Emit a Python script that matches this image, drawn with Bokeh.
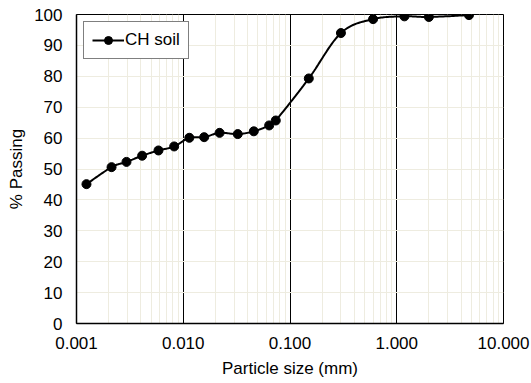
import numpy as np
from bokeh.plotting import figure
from bokeh.models import FixedTicker, Legend, LegendItem, Range1d
from bokeh.embed import file_html
from bokeh.resources import INLINE

# ---- data ----
particle_size = [0.00124, 0.00213, 0.00294, 0.00412, 0.00586, 0.00822, 0.0114, 0.0157,
                 0.0219, 0.0324, 0.0458, 0.0638, 0.0736, 0.150, 0.300, 0.600, 1.18, 2.00, 4.75]
percent_passing = [45.1, 50.6, 52.3, 54.3, 56.0, 57.3, 60.1, 60.3,
                   61.7, 61.3, 62.2, 64.1, 65.7, 79.3, 94.0, 98.5, 99.4, 99.2, 99.8]
series_name = "CH soil"
x_ticks = [0.001, 0.01, 0.1, 1.0, 10.0]
x_tick_labels = ["0.001", "0.010", "0.100", "1.000", "10.000"]
y_ticks = [0, 10, 20, 30, 40, 50, 60, 70, 80, 90, 100]

FONT = "Liberation Sans"

# smooth curve (Catmull-Rom in screen-proportional space, like a spreadsheet's smoothed line)
def smooth(xs, ys, sx=106.75, sy=3.09, n=24):
    X = np.log10(np.array(xs)) * sx
    Y = np.array(ys) * sy
    P = np.column_stack([X, Y])
    out = []
    m = len(P)
    for i in range(m - 1):
        p0 = P[i - 1] if i > 0 else P[i]
        p1 = P[i]
        p2 = P[i + 1]
        p3 = P[i + 2] if i + 2 < m else P[i + 1]
        c1 = p1 + (p2 - p0) / 6.0
        c2 = p2 - (p3 - p1) / 6.0
        for t in np.linspace(0, 1, n, endpoint=(i == m - 2)):
            b = ((1 - t) ** 3) * p1 + 3 * ((1 - t) ** 2) * t * c1 + 3 * (1 - t) * t * t * c2 + t ** 3 * p2
            out.append(b)
    out = np.array(out)
    return list(10 ** (out[:, 0] / sx)), list(out[:, 1] / sy)

sx_, sy_ = smooth(particle_size, percent_passing)

p = figure(width=531, height=383, x_axis_type="log",
           x_range=Range1d(0.001, 10), y_range=Range1d(0, 100),
           output_backend="svg", toolbar_location=None,
           min_border_left=76, min_border_right=28, min_border_top=14, min_border_bottom=60)

p.background_fill_color = "white"
p.border_fill_color = "white"
p.outline_line_color = "black"
p.outline_line_width = 1

minor = []
for d in [0.001, 0.01, 0.1, 1.0]:
    for k in range(2, 10):
        minor.append(d * k)
p.xaxis.ticker = FixedTicker(ticks=x_ticks, minor_ticks=minor)
p.xaxis.major_label_overrides = {t: l for t, l in zip(x_ticks, x_tick_labels)}
p.yaxis.ticker = FixedTicker(ticks=y_ticks)

for ax in (p.xaxis[0], p.yaxis[0]):
    ax.axis_line_color = "black"
    ax.axis_line_width = 1.5
    ax.major_tick_in = 0
    ax.major_tick_out = 0
    ax.minor_tick_in = 0
    ax.minor_tick_out = 0
    ax.major_label_text_font = FONT
    ax.major_label_text_font_size = "17px"
    ax.major_label_text_color = "black"
    ax.axis_label_text_font = FONT
    ax.axis_label_text_font_size = "17px"
    ax.axis_label_text_font_style = "normal"
    ax.axis_label_text_color = "black"

p.xaxis.axis_label = "Particle size (mm)"
p.yaxis.axis_label = "% Passing"
p.xaxis.major_label_standoff = 13
p.xaxis.axis_label_standoff = 7
p.yaxis.major_label_standoff = 14
p.yaxis.axis_label_standoff = 5

p.xgrid.grid_line_color = "black"
p.xgrid.grid_line_width = 1
p.xgrid.minor_grid_line_color = "#EEECE0"
p.xgrid.minor_grid_line_width = 1
p.ygrid.grid_line_color = "#EEECE0"
p.ygrid.grid_line_width = 1

line_r = p.line(sx_, sy_, line_color="black", line_width=2)
pts_r = p.scatter(particle_size, percent_passing, size=9, marker="circle",
                  fill_color="black", line_color="black")

legend = Legend(items=[LegendItem(label=series_name, renderers=[line_r, pts_r])],
                location="top_left")
legend.label_text_font = FONT
legend.label_text_font_size = "17px"
legend.label_text_color = "black"
legend.border_line_color = "black"
legend.border_line_width = 1
legend.background_fill_alpha = 1
legend.margin = 7
legend.padding = 8
legend.spacing = 0
legend.glyph_width = 32
legend.label_standoff = 1
p.add_layout(legend, "center")

open("out.html", "w").write(file_html(p, INLINE))
